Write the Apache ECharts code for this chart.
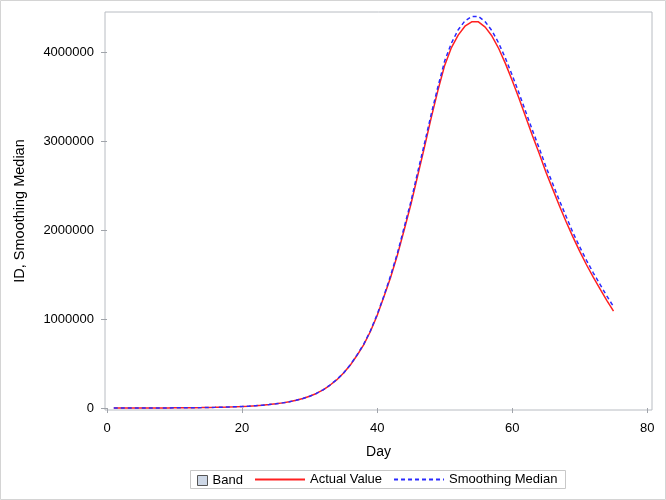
<!DOCTYPE html>
<html lang="en">

<head>
    <meta charset="UTF-8">
    <title>ID, Smoothing Median</title>
    <script src="https://cdn.jsdelivr.net/npm/echarts@6/dist/echarts.min.js"></script>
    <style>
        body { margin: 0; background: #fff; }
        #main { width: 666px; height: 500px; }
    </style>
</head>

<body>
    <div id="main"></div>
    <script>
        // days 1..75
        var days = [];
        for (var d = 1; d <= 75; d++) days.push(d);

        // values, in millions (one per day)
        var actualM = [
            0.0003, 0.0004, 0.0005, 0.0006, 0.0007, 0.0009, 0.0011, 0.0013, 0.0016, 0.0020,
            0.0025, 0.0031, 0.0039, 0.0048, 0.0060, 0.0075, 0.0093, 0.0115, 0.0142, 0.0175,
            0.0215, 0.0263, 0.0320, 0.0390, 0.0475, 0.0580, 0.0700, 0.0870, 0.1070, 0.1320,
            0.1640, 0.2050, 0.2560, 0.3160, 0.3900, 0.4800, 0.5900, 0.7100, 0.8600, 1.0400,
            1.2500, 1.4700, 1.7200, 2.0000, 2.2900, 2.6100, 2.9300, 3.2600, 3.5700, 3.8500,
            4.0500, 4.1900, 4.2900, 4.3400, 4.3400, 4.2800, 4.1800, 4.0400, 3.8700, 3.6800,
            3.4800, 3.2700, 3.0600, 2.8600, 2.6500, 2.4600, 2.2700, 2.0900, 1.9200, 1.7600,
            1.6100, 1.4700, 1.3400, 1.2100, 1.0900
        ];
        var medianM = [
            0.0003, 0.0004, 0.0005, 0.0006, 0.0007, 0.0009, 0.0011, 0.0013, 0.0016, 0.0020,
            0.0025, 0.0031, 0.0039, 0.0048, 0.0060, 0.0075, 0.0093, 0.0115, 0.0142, 0.0175,
            0.0215, 0.0263, 0.0320, 0.0390, 0.0475, 0.0580, 0.0700, 0.0870, 0.1070, 0.1320,
            0.1640, 0.2050, 0.2570, 0.3180, 0.3920, 0.4830, 0.5940, 0.7160, 0.8680, 1.0500,
            1.2600, 1.4900, 1.7400, 2.0300, 2.3200, 2.6500, 2.9700, 3.3000, 3.6100, 3.9000,
            4.1000, 4.2500, 4.3500, 4.4000, 4.4000, 4.3400, 4.2400, 4.1000, 3.9300, 3.7400,
            3.5400, 3.3300, 3.1200, 2.9200, 2.7100, 2.5200, 2.3300, 2.1500, 1.9700, 1.8100,
            1.6600, 1.5200, 1.3900, 1.2600, 1.1400
        ];

        var xTicks = [0, 20, 40, 60, 80];
        var yTicks = [0, 1000000, 2000000, 3000000, 4000000];

        var actual = days.map(function (d, i) { return [d, Math.round(actualM[i] * 1e6)]; });
        var median = days.map(function (d, i) { return [d, Math.round(medianM[i] * 1e6)]; });

        var font = 'Liberation Sans, Arial, sans-serif';
        var legendText = { fontFamily: font, fontSize: 13, color: '#000' };
        var myChart = echarts.init(document.getElementById('main'));

        var option = {
            animation: false,
            backgroundColor: '#fff',
            graphic: [{
                type: 'rect',
                shape: { x: 0.5, y: 0.5, width: 665, height: 499 },
                style: { fill: 'none', stroke: '#d4d4d4', lineWidth: 1 },
                silent: true
            }, {
                // legend frame
                type: 'rect',
                shape: { x: 190.5, y: 470.5, width: 375, height: 18 },
                style: { fill: '#fff', stroke: '#c8c8c8', lineWidth: 1 },
                silent: true, z: -1
            }],
            grid: {
                left: 105, right: 14, top: 12, bottom: 90,
                show: true, borderColor: '#b8bcc2', borderWidth: 1
            },
            legend: [{
                left: 192, top: 474, padding: [0, 0, 0, 5],
                itemWidth: 10, itemHeight: 10, itemGap: 8,
                textStyle: legendText,
                data: [{ name: 'Band', icon: 'rect',
                         itemStyle: { color: '#cdd7e6', borderColor: '#555', borderWidth: 1 } }]
            }, {
                left: 254, top: 473, padding: 0,
                itemWidth: 50, itemHeight: 13, itemGap: 11,
                textStyle: legendText,
                data: [
                    { name: 'Actual Value', itemStyle: { opacity: 0 } },
                    { name: 'Smoothing Median', itemStyle: { opacity: 0 } }
                ]
            }],
            xAxis: {
                type: 'value',
                min: -0.3, max: 80.7,
                name: 'Day', nameLocation: 'middle', nameGap: 35,
                nameTextStyle: { fontFamily: font, fontSize: 14, color: '#000' },
                axisLine: { show: false },
                axisTick: { show: true, inside: false, length: 5, customValues: xTicks,
                            lineStyle: { color: '#a0a4aa' } },
                axisLabel: { customValues: xTicks, margin: 12,
                             fontFamily: font, fontSize: 13, color: '#000' },
                splitLine: { show: false }
            },
            yAxis: {
                type: 'value',
                min: -22000, max: 4450000,
                name: 'ID, Smoothing Median', nameLocation: 'middle', nameGap: 78,
                nameTextStyle: { fontFamily: font, fontSize: 14.5, color: '#000' },
                axisLine: { show: false },
                axisTick: { show: true, inside: false, length: 6, customValues: yTicks,
                            lineStyle: { color: '#a0a4aa' } },
                axisLabel: { customValues: yTicks, margin: 11,
                             formatter: function (v) { return String(v); },
                             fontFamily: font, fontSize: 13, color: '#000' },
                splitLine: { show: false }
            },
            series: [
                {
                    name: 'Band', type: 'line', data: [],
                    itemStyle: { color: '#cdd7e6' }
                },
                {
                    name: 'Actual Value', type: 'line', data: actual,
                    symbol: 'none',
                    lineStyle: { color: '#ff2020', width: 1.5 },
                    itemStyle: { color: '#ff2020' }
                },
                {
                    name: 'Smoothing Median', type: 'line', data: median,
                    symbol: 'none',
                    lineStyle: { color: '#2a2aff', width: 1.5, type: [4, 3] },
                    itemStyle: { color: '#2a2aff' }
                }
            ]
        };

        myChart.setOption(option);
    </script>
</body>

</html>
